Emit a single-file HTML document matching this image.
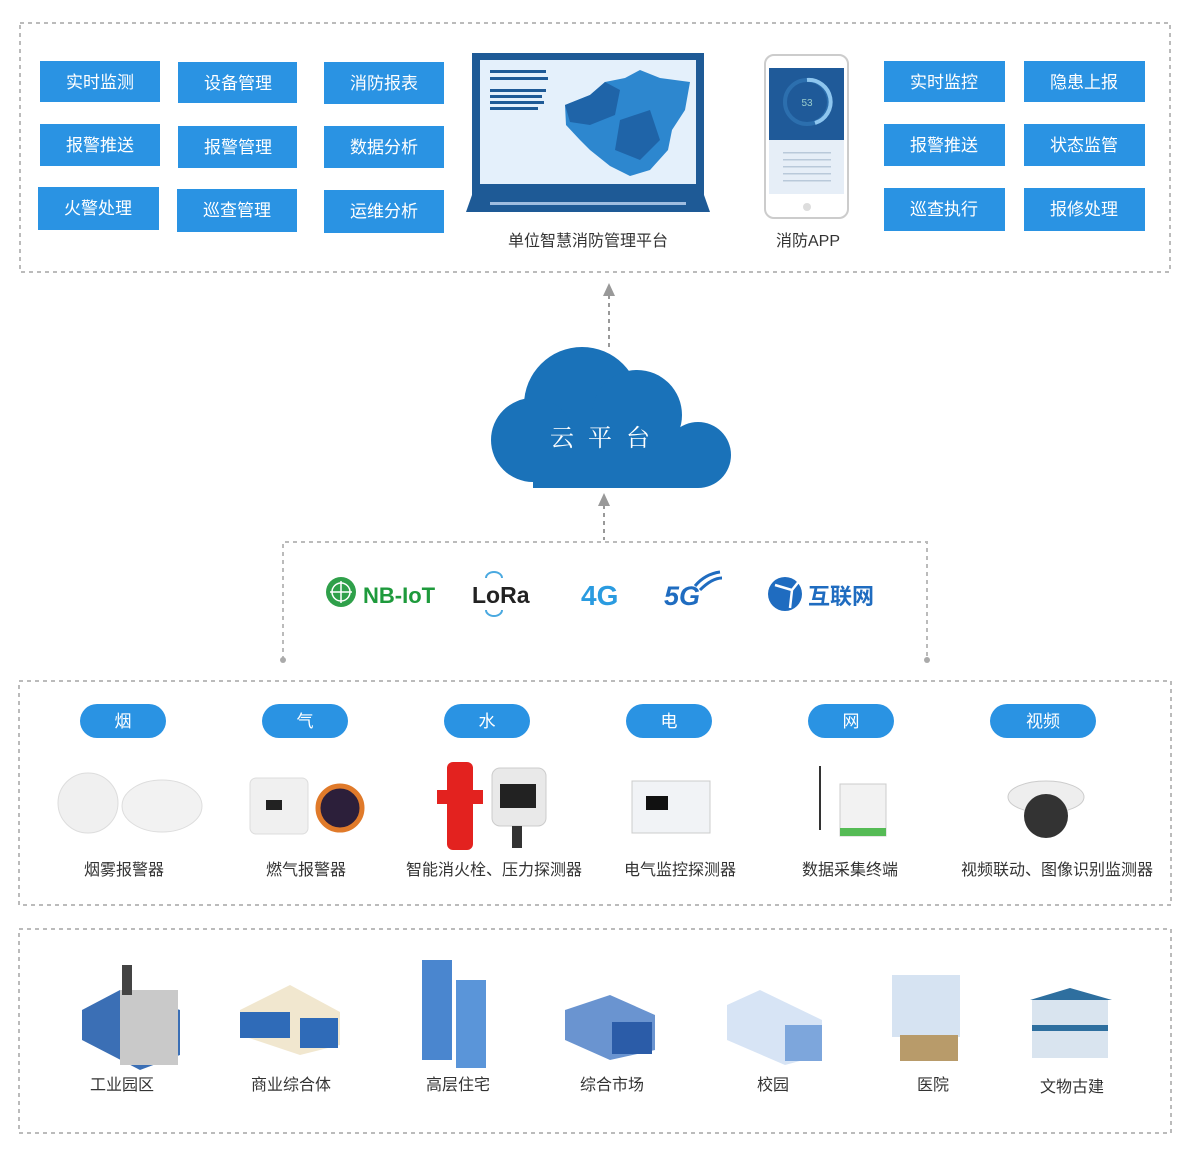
<!DOCTYPE html>
<html><head><meta charset="utf-8"><style>
body{margin:0;background:#fff;}
svg{display:block;font-family:"Liberation Sans","Noto Sans CJK SC",sans-serif;}
.b{fill:#2a93e3;}
.bt{fill:#fff;font-size:17px;text-anchor:middle;}
.lb{fill:#333;font-size:16px;text-anchor:middle;}
.d{fill:none;stroke:#bbb;stroke-width:2;stroke-dasharray:4 4;}
</style></head><body>
<svg width="1200" height="1158" viewBox="0 0 1200 1158">
<!-- top box -->
<rect class="d" x="20" y="23" width="1150" height="249"/>
<g>
<rect class="b" x="40" y="61" width="120" height="41"/><text class="bt" x="100" y="88">实时监测</text>
<rect class="b" x="178" y="62" width="119" height="41"/><text class="bt" x="238" y="89">设备管理</text>
<rect class="b" x="324" y="62" width="120" height="42"/><text class="bt" x="384" y="89">消防报表</text>
<rect class="b" x="40" y="124" width="120" height="42"/><text class="bt" x="100" y="151">报警推送</text>
<rect class="b" x="178" y="126" width="119" height="42"/><text class="bt" x="238" y="153">报警管理</text>
<rect class="b" x="324" y="126" width="120" height="42"/><text class="bt" x="384" y="153">数据分析</text>
<rect class="b" x="38" y="187" width="121" height="43"/><text class="bt" x="98" y="214">火警处理</text>
<rect class="b" x="177" y="189" width="120" height="43"/><text class="bt" x="237" y="216">巡查管理</text>
<rect class="b" x="324" y="190" width="120" height="43"/><text class="bt" x="384" y="217">运维分析</text>
<rect class="b" x="884" y="61" width="121" height="41"/><text class="bt" x="944" y="88">实时监控</text>
<rect class="b" x="1024" y="61" width="121" height="41"/><text class="bt" x="1084" y="88">隐患上报</text>
<rect class="b" x="884" y="124" width="121" height="42"/><text class="bt" x="944" y="151">报警推送</text>
<rect class="b" x="1024" y="124" width="121" height="42"/><text class="bt" x="1084" y="151">状态监管</text>
<rect class="b" x="884" y="188" width="121" height="43"/><text class="bt" x="944" y="215">巡查执行</text>
<rect class="b" x="1024" y="188" width="121" height="43"/><text class="bt" x="1084" y="215">报修处理</text>
</g>
<!-- laptop -->
<rect x="472" y="53" width="232" height="142" fill="#1e5a96"/>
<rect x="480" y="60" width="216" height="124" fill="#e4f0fb"/>
<path d="M472 195 H704 L710 212 H466 Z" fill="#1e5a96"/>
<rect x="490" y="202" width="196" height="3" fill="#9fbde0"/>
<g fill="#1e5a96"><rect x="490" y="70" width="56" height="3"/><rect x="490" y="77" width="58" height="3"/><rect x="490" y="89" width="56" height="3"/><rect x="490" y="95" width="52" height="3"/><rect x="490" y="101" width="54" height="3"/><rect x="490" y="107" width="48" height="3"/></g>
<path d="M565 105 L590 95 L605 82 L625 78 L640 70 L660 78 L690 82 L685 110 L672 130 L668 150 L650 170 L630 176 L610 166 L590 150 L580 140 L566 125 Z" fill="#2d87cf"/>
<path d="M565 105 L590 95 L605 82 L620 90 L615 115 L590 125 L570 122 Z" fill="#1f64a8"/>
<path d="M620 120 L650 110 L660 140 L640 160 L615 150 Z" fill="#1f64a8"/>
<text x="588" y="246" class="lb">单位智慧消防管理平台</text>
<!-- phone -->
<rect x="765" y="55" width="83" height="163" rx="9" fill="#fff" stroke="#ccc" stroke-width="2"/>
<rect x="769" y="68" width="75" height="72" fill="#1f5a99"/>
<rect x="769" y="140" width="75" height="54" fill="#e6eef7"/>
<circle cx="807" cy="102" r="22" fill="none" stroke="#2c6fae" stroke-width="4"/>
<path d="M807 80 A22 22 0 0 1 815 123" fill="none" stroke="#8ec6ef" stroke-width="4"/>
<text x="807" y="106" fill="#9cc" font-size="10" text-anchor="middle">53</text>
<g fill="#b9c9da"><rect x="783" y="152" width="48" height="1.5"/><rect x="783" y="159" width="48" height="1.5"/><rect x="783" y="166" width="48" height="1.5"/><rect x="783" y="173" width="48" height="1.5"/><rect x="783" y="180" width="48" height="1.5"/></g>
<circle cx="807" cy="207" r="4" fill="#ddd"/>
<text x="808" y="246" class="lb">消防APP</text>
<!-- arrows -->
<line x1="609" y1="295" x2="609" y2="350" stroke="#999" stroke-width="2" stroke-dasharray="4 4"/>
<path d="M609 283 L603 296 H615 Z" fill="#999"/>
<line x1="604" y1="505" x2="604" y2="540" stroke="#999" stroke-width="2" stroke-dasharray="4 4"/>
<path d="M604 493 L598 506 H610 Z" fill="#999"/>
<!-- cloud -->
<g fill="#1a72b9">
<circle cx="582" cy="405" r="58"/>
<circle cx="637" cy="415" r="45"/>
<circle cx="533" cy="440" r="42"/>
<circle cx="698" cy="455" r="33"/>
<rect x="533" y="440" width="165" height="48"/>
</g>
<text x="607" y="446" fill="#fff" font-size="24" text-anchor="middle" letter-spacing="14" font-family="Liberation Serif,Noto Serif CJK SC,serif">云平台</text>
<!-- network box -->
<path class="d" d="M283 660 V542 H927 V660"/>
<circle cx="283" cy="660" r="3" fill="#aaa"/><circle cx="927" cy="660" r="3" fill="#aaa"/>
<circle cx="341" cy="592" r="15" fill="#2fa04a"/>
<g stroke="#fff" stroke-width="1.5" fill="none"><circle cx="341" cy="592" r="9"/><line x1="330" y1="592" x2="352" y2="592"/><line x1="341" y1="581" x2="341" y2="603"/></g>
<text x="363" y="603" fill="#1e9a3c" font-size="22" font-weight="bold">NB-IoT</text>
<text x="472" y="603" fill="#222" font-size="23" font-weight="bold">LoRa</text>
<path d="M486 578 a8 6 0 0 1 16 0 M486 610 a8 6 0 0 0 16 0" stroke="#4aa9e0" stroke-width="2" fill="none"/>
<text x="581" y="605" fill="#2a9be0" font-size="28" font-weight="bold">4G</text>
<text x="664" y="605" fill="#1f6cc0" font-size="27" font-weight="bold" font-style="italic">5G</text>
<path d="M695 586 Q705 574 720 572 M700 590 Q712 578 722 578" stroke="#1f6cc0" stroke-width="3" fill="none"/>
<circle cx="785" cy="594" r="17" fill="#1f6cc0"/>
<path d="M775 585 L792 590 L790 608 M792 590 L800 580" stroke="#fff" stroke-width="2.5" fill="none"/>
<text x="808" y="604" fill="#1f6cc0" font-size="22" font-weight="bold">互联网</text>
<!-- device box -->
<rect class="d" x="19" y="681" width="1152" height="224"/>
<g>
<rect class="b" x="80" y="704" width="86" height="34" rx="17"/><text class="bt" x="123" y="727">烟</text>
<rect class="b" x="262" y="704" width="86" height="34" rx="17"/><text class="bt" x="305" y="727">气</text>
<rect class="b" x="444" y="704" width="86" height="34" rx="17"/><text class="bt" x="487" y="727">水</text>
<rect class="b" x="626" y="704" width="86" height="34" rx="17"/><text class="bt" x="669" y="727">电</text>
<rect class="b" x="808" y="704" width="86" height="34" rx="17"/><text class="bt" x="851" y="727">网</text>
<rect class="b" x="990" y="704" width="106" height="34" rx="17"/><text class="bt" x="1043" y="727">视频</text>
</g>
<circle cx="88" cy="803" r="30" fill="#f0f0f0" stroke="#ddd"/>
<ellipse cx="162" cy="806" rx="40" ry="26" fill="#f2f2f2" stroke="#ddd"/>
<rect x="250" y="778" width="58" height="56" rx="6" fill="#f0f0f0" stroke="#ddd"/>
<rect x="266" y="800" width="16" height="10" fill="#222"/>
<circle cx="340" cy="808" r="22" fill="#2c1f3a" stroke="#e07a2a" stroke-width="5"/>
<rect x="447" y="762" width="26" height="88" rx="6" fill="#e3221f"/>
<rect x="437" y="790" width="46" height="14" fill="#e3221f"/>
<rect x="492" y="768" width="54" height="58" rx="8" fill="#e9e9e9" stroke="#ccc"/>
<rect x="500" y="784" width="36" height="24" fill="#222"/>
<rect x="512" y="826" width="10" height="22" fill="#333"/>
<rect x="632" y="781" width="78" height="52" fill="#f1f3f6" stroke="#ccc"/>
<rect x="646" y="796" width="22" height="14" fill="#111"/>
<line x1="820" y1="766" x2="820" y2="830" stroke="#333" stroke-width="2"/>
<rect x="840" y="784" width="46" height="52" fill="#f2f2f2" stroke="#ccc"/>
<rect x="840" y="828" width="46" height="8" fill="#5b5"/>
<ellipse cx="1046" cy="797" rx="38" ry="16" fill="#eee" stroke="#ccc"/>
<circle cx="1046" cy="816" r="22" fill="#333"/>
<text class="lb" x="124" y="875">烟雾报警器</text>
<text class="lb" x="306" y="875">燃气报警器</text>
<text class="lb" x="494" y="875" font-size="15">智能消火栓、压力探测器</text>
<text class="lb" x="680" y="875">电气监控探测器</text>
<text class="lb" x="850" y="875">数据采集终端</text>
<text class="lb" x="1057" y="875">视频联动、图像识别监测器</text>
<!-- building box -->
<rect class="d" x="19" y="929" width="1152" height="204"/>
<g>
<path d="M82 1010 L120 990 L180 1010 V1055 L140 1070 L82 1040 Z" fill="#3b6fb5"/><rect x="120" y="990" width="58" height="75" fill="#c9c9c9"/><rect x="122" y="965" width="10" height="30" fill="#444"/>
<path d="M240 1010 L290 985 L340 1012 V1045 L300 1055 L240 1035 Z" fill="#f1e7cf"/><rect x="240" y="1012" width="50" height="26" fill="#2f6bb8"/><rect x="300" y="1018" width="38" height="30" fill="#2f6bb8"/>
<rect x="422" y="960" width="30" height="100" fill="#4a86cf"/><rect x="456" y="980" width="30" height="88" fill="#5a95d9"/>
<path d="M565 1010 L610 995 L655 1015 V1050 L610 1060 L565 1040 Z" fill="#6a94d0"/><rect x="612" y="1022" width="40" height="32" fill="#2b5ca8"/>
<path d="M727 1005 L760 990 L822 1020 V1055 L785 1065 L727 1040 Z" fill="#d7e4f5"/><rect x="785" y="1025" width="37" height="36" fill="#7da6dc"/>
<rect x="892" y="975" width="68" height="62" fill="#d6e3f2"/><rect x="900" y="1035" width="58" height="26" fill="#b89b6a"/>
<rect x="1032" y="1000" width="76" height="58" fill="#d9e4ef"/><path d="M1030 1000 L1070 988 L1112 1000 Z" fill="#2e6f9f"/><rect x="1032" y="1025" width="76" height="6" fill="#2e6f9f"/>
</g>
<text class="lb" x="122" y="1090">工业园区</text>
<text class="lb" x="291" y="1090">商业综合体</text>
<text class="lb" x="458" y="1090">高层住宅</text>
<text class="lb" x="612" y="1090">综合市场</text>
<text class="lb" x="773" y="1090">校园</text>
<text class="lb" x="933" y="1090">医院</text>
<text class="lb" x="1072" y="1092">文物古建</text>
</svg>
</body></html>
